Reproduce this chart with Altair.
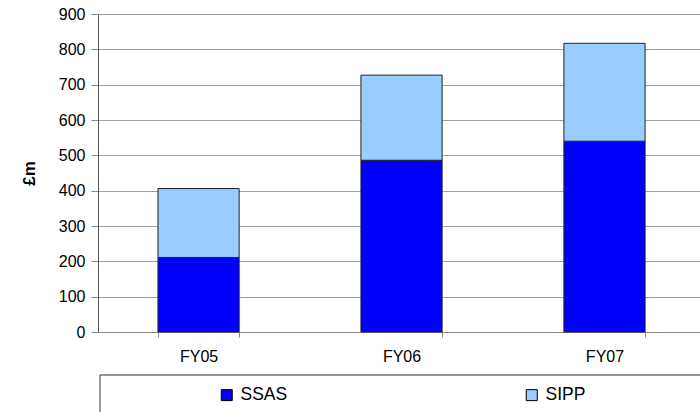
import altair as alt
import pandas as pd

years = ["FY05", "FY06", "FY07"]
ssas = [211, 486, 540]
sipp = [195, 241, 277]
series = ["SSAS", "SIPP"]
colors = ["#0000FF", "#99CCFF"]

rows = []
for i, y in enumerate(years):
    rows.append({"year": y, "series": "SSAS", "value": ssas[i], "ord": 0})
    rows.append({"year": y, "series": "SIPP", "value": sipp[i], "ord": 1})
df = pd.DataFrame(rows)

FONT = "Liberation Sans"

bars = alt.Chart(df).mark_bar(stroke="#222222", strokeWidth=1).encode(
    x=alt.X("year:N", sort=years, title=None,
            scale=alt.Scale(paddingInner=0.6, paddingOuter=0.283, align=0.522),
            axis=alt.Axis(labelAngle=0, tickBand="extent", labelFont=FONT,
                          labelFontSize=16, labelColor="#000000",
                          domainColor="#888888", tickColor="#888888",
                          tickSize=5, labelPadding=11, grid=False)),
    y=alt.Y("value:Q", stack="zero", title="£m",
            scale=alt.Scale(domain=[0, 900], nice=False),
            axis=alt.Axis(values=list(range(0, 1000, 100)), labelFont=FONT,
                          labelFontSize=16, labelColor="#000000",
                          titleFont=FONT, titleFontSize=17, titleFontWeight="bold",
                          titleColor="#000000", titlePadding=20,
                          domainColor="#555555", tickColor="#888888",
                          tickSize=7, labelPadding=6,
                          grid=True, gridColor="#A0A0A0", gridWidth=1)),
    color=alt.Color("series:N", scale=alt.Scale(domain=series, range=colors),
                    legend=alt.Legend(title=None, orient="none", direction="horizontal",
                                      legendX=120, legendY=372, columns=2,
                                      columnPadding=235, symbolType="square",
                                      symbolSize=121, symbolStrokeColor="#000000",
                                      symbolStrokeWidth=1, labelFont=FONT,
                                      labelFontSize=17.5, labelColor="#000000",
                                      labelOffset=5)),
    order=alt.Order("ord:Q"),
)

box = alt.Chart(pd.DataFrame({"k": [0]})).mark_rect(
    fill="white", stroke="#333333", strokeWidth=1
).encode(x=alt.value(2), x2=alt.value(700), y=alt.value(361), y2=alt.value(440))

chart = alt.layer(box, bars).properties(
    width=602, height=318,
    padding={"left": 98, "top": 14, "right": 0, "bottom": 80},
    autosize=alt.AutoSizeParams(type="none"),
).configure_view(stroke=None).configure(background="white")

chart.save("out.html", embed_options={"renderer": "svg", "actions": False})
